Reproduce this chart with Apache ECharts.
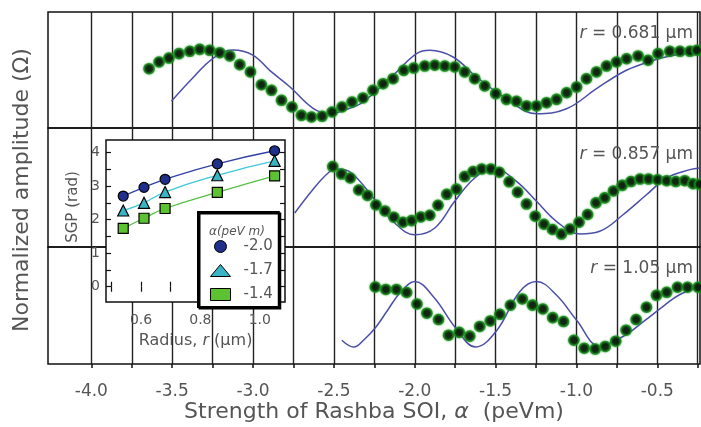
<!DOCTYPE html>
<html>
<head>
<meta charset="utf-8">
<script src="https://cdn.jsdelivr.net/npm/echarts@6/dist/echarts.min.js"></script>
<style>
html, body { margin: 0; padding: 0; background: #fff; }
#main { width: 701px; height: 427px; }
</style>
</head>
<body>
<div id="main"></div>
<script>
// main axis: strength of Rashba SOI
var alphaTicks = [-4.0, -3.75, -3.5, -3.25, -3.0, -2.75, -2.5, -2.25, -2.0, -1.75, -1.5, -1.25, -1.0, -0.75, -0.5, -0.25];
var alphaLabels = [-4.0, -3.5, -3.0, -2.5, -2.0, -1.5, -1.0, -0.5];
var panelRadii = ['0.681', '0.857', '1.05'];

// r = 0.681 um : measured (dots) and calculated (line)
var dots681 = [[-3.643,0.511],[-3.581,0.569],[-3.520,0.603],[-3.458,0.641],[-3.391,0.661],[-3.330,0.678],[-3.268,0.670],[-3.206,0.649],[-3.144,0.621],[-3.082,0.546],[-3.016,0.483],[-2.948,0.373],[-2.886,0.325],[-2.824,0.239],[-2.759,0.181],[-2.701,0.109],[-2.639,0.095],[-2.573,0.101],[-2.511,0.138],[-2.450,0.181],[-2.388,0.224],[-2.320,0.259],[-2.258,0.325],[-2.196,0.382],[-2.134,0.425],[-2.068,0.497],[-2.006,0.517],[-1.938,0.534],[-1.876,0.541],[-1.814,0.534],[-1.753,0.526],[-1.691,0.483],[-1.629,0.425],[-1.567,0.362],[-1.499,0.296],[-1.433,0.247],[-1.371,0.230],[-1.309,0.190],[-1.247,0.190],[-1.185,0.218],[-1.123,0.247],[-1.061,0.304],[-0.999,0.353],[-0.938,0.425],[-0.876,0.483],[-0.814,0.534],[-0.752,0.569],[-0.690,0.597],[-0.619,0.621],[-0.557,0.584],[-0.495,0.641],[-0.423,0.661],[-0.360,0.661],[-0.298,0.661],[-0.255,0.670]];
var fit681 = [[-3.505,0.230],[-3.379,0.422],[-3.247,0.601],[-3.126,0.672],[-3.002,0.629],[-2.897,0.497],[-2.773,0.356],[-2.631,0.172],[-2.526,0.123],[-2.433,0.155],[-2.320,0.224],[-2.134,0.454],[-1.989,0.641],[-1.907,0.670],[-1.763,0.612],[-1.618,0.440],[-1.433,0.253],[-1.247,0.123],[-1.061,0.166],[-0.876,0.339],[-0.712,0.483],[-0.588,0.554],[-0.423,0.621],[-0.250,0.647]];

// r = 0.857 um
var dots857 = [[-2.507,0.676],[-2.453,0.613],[-2.399,0.580],[-2.346,0.479],[-2.292,0.433],[-2.240,0.353],[-2.184,0.303],[-2.129,0.250],[-2.073,0.208],[-2.019,0.222],[-1.963,0.252],[-1.907,0.267],[-1.856,0.351],[-1.802,0.443],[-1.742,0.486],[-1.691,0.592],[-1.639,0.634],[-1.586,0.655],[-1.529,0.655],[-1.477,0.628],[-1.416,0.548],[-1.364,0.460],[-1.309,0.361],[-1.255,0.259],[-1.201,0.191],[-1.148,0.147],[-1.093,0.109],[-1.040,0.151],[-0.984,0.208],[-0.931,0.273],[-0.879,0.371],[-0.825,0.413],[-0.771,0.471],[-0.717,0.518],[-0.663,0.550],[-0.607,0.571],[-0.554,0.571],[-0.498,0.565],[-0.442,0.557],[-0.386,0.550],[-0.330,0.557],[-0.279,0.532],[-0.238,0.527]];
var fit857 = [[-2.742,0.286],[-2.637,0.471],[-2.536,0.622],[-2.482,0.655],[-2.391,0.622],[-2.247,0.397],[-2.124,0.202],[-2.000,0.103],[-1.876,0.160],[-1.753,0.384],[-1.629,0.580],[-1.511,0.660],[-1.371,0.552],[-1.247,0.384],[-1.124,0.216],[-0.980,0.109],[-0.856,0.132],[-0.712,0.271],[-0.567,0.439],[-0.443,0.580],[-0.299,0.650],[-0.237,0.664]];

// r = 1.05 um
var dots105 = [[-2.244,0.658],[-2.179,0.637],[-2.113,0.637],[-2.050,0.611],[-1.986,0.513],[-1.925,0.434],[-1.853,0.380],[-1.791,0.246],[-1.725,0.270],[-1.660,0.238],[-1.598,0.321],[-1.533,0.368],[-1.474,0.425],[-1.408,0.502],[-1.335,0.556],[-1.272,0.503],[-1.208,0.470],[-1.147,0.396],[-1.080,0.363],[-1.016,0.203],[-0.952,0.135],[-0.884,0.128],[-0.822,0.150],[-0.757,0.195],[-0.693,0.289],[-0.631,0.380],[-0.567,0.485],[-0.505,0.587],[-0.442,0.613],[-0.375,0.656],[-0.313,0.656],[-0.248,0.656]];
var fit105 = [[-2.451,0.203],[-2.377,0.145],[-2.309,0.214],[-2.241,0.314],[-2.167,0.462],[-2.093,0.604],[-2.000,0.705],[-1.882,0.570],[-1.746,0.306],[-1.623,0.145],[-1.493,0.286],[-1.351,0.618],[-1.247,0.705],[-1.124,0.590],[-1.000,0.376],[-0.856,0.154],[-0.712,0.235],[-0.578,0.370],[-0.454,0.504],[-0.363,0.592],[-0.256,0.650]];

// inset: SGP vs radius
var radius = [0.54, 0.61, 0.681, 0.857, 1.05];
var sgp20 = [2.70, 2.96, 3.20, 3.66, 4.05];
var sgp17 = [2.27, 2.50, 2.82, 3.32, 3.75];
var sgp14 = [1.74, 2.04, 2.33, 2.81, 3.30];
var radiusTicks = [0.5, 0.6, 0.7, 0.8, 0.9, 1.0];
var radiusLabels = [0.6, 0.8, 1.0];
var sgpTicks = [0, 0.5, 1, 1.5, 2, 2.5, 3, 3.5, 4];
var sgpLabels = [0, 1, 2, 3, 4];

var FONT = 'DejaVu Sans';
var GREY = '#555';

function zip(xs, ys) {
    return xs.map(function (x, i) { return [x, ys[i]]; });
}

var myChart = echarts.init(document.getElementById('main'));

var panelGrid = { left: 48, width: 652, show: true, borderColor: '#111', borderWidth: 1.5 };
var grids = [
    Object.assign({ top: 12, height: 116 }, panelGrid),
    Object.assign({ top: 128, height: 119 }, panelGrid),
    Object.assign({ top: 247, height: 117 }, panelGrid),
    { left: 106, top: 140, width: 179, height: 162, show: true, backgroundColor: '#fff', borderColor: '#111', borderWidth: 1.5, z: 3 }
];

function alphaAxis(i, last) {
    return {
        type: 'value', gridIndex: i, min: -4.268, max: -0.236,
        axisLine: { show: false },
        axisTick: { show: last, inside: false, length: 4, customValues: alphaTicks, lineStyle: { color: '#111', width: 1.5 } },
        axisLabel: {
            show: last, customValues: alphaLabels, margin: 19,
            formatter: function (v) { return v.toFixed(1); },
            color: GREY, fontSize: 17, fontFamily: FONT
        },
        splitLine: { show: true, lineStyle: { color: '#222', width: 1.4 } },
        name: last ? '{t|Strength of Rashba SOI, }{a|α}{t|  (peVm)}' : '',
        nameLocation: 'middle', nameGap: 37,
        nameTextStyle: {
            rich: {
                t: { fontSize: 22, fontFamily: FONT, color: GREY },
                a: { fontSize: 22, fontFamily: FONT, color: GREY, fontStyle: 'italic' }
            }
        }
    };
}

function ampAxis(i) {
    return { type: 'value', gridIndex: i, min: 0, max: 1, show: false };
}

var insetTickStyle = { color: '#111', width: 1.2 };

option = {
    animation: false,
    grid: grids,
    xAxis: [
        alphaAxis(0, false), alphaAxis(1, false), alphaAxis(2, true),
        {
            type: 'value', gridIndex: 3, min: 0.482, max: 1.085, z: 4,
            axisLine: { show: false },
            axisTick: { inside: true, length: 5, customValues: radiusTicks, lineStyle: insetTickStyle },
            axisLabel: { customValues: radiusLabels, margin: 11, color: GREY, fontSize: 14, fontFamily: FONT,
                formatter: function (v) { return v.toFixed(1); } },
            splitLine: { show: false },
            name: '{t|Radius, }{i|r}{t| (μm)}', nameLocation: 'middle', nameGap: 31,
            nameTextStyle: { rich: {
                t: { fontSize: 16, fontFamily: FONT, color: GREY },
                i: { fontSize: 16, fontFamily: FONT, color: GREY, fontStyle: 'italic' }
            } }
        },
        {
            type: 'value', gridIndex: 3, position: 'top', min: 0.482, max: 1.085, z: 4,
            axisLine: { show: false },
            axisTick: { inside: true, length: 5, customValues: radiusTicks, lineStyle: insetTickStyle },
            axisLabel: { show: false }, splitLine: { show: false }
        }
    ],
    yAxis: [
        ampAxis(0), ampAxis(1), ampAxis(2),
        {
            type: 'value', gridIndex: 3, min: -0.455, max: 4.37, z: 4,
            axisLine: { show: false },
            axisTick: { inside: true, length: 5, customValues: sgpTicks, lineStyle: insetTickStyle },
            axisLabel: { customValues: sgpLabels, margin: 6, color: GREY, fontSize: 14, fontFamily: FONT },
            splitLine: { show: false }
        },
        {
            type: 'value', gridIndex: 3, position: 'right', min: -0.455, max: 4.37, z: 4,
            axisLine: { show: false },
            axisTick: { inside: true, length: 5, customValues: sgpTicks, lineStyle: insetTickStyle },
            axisLabel: { show: false }, splitLine: { show: false }
        }
    ],
    legend: {
        data: [{ name: '-2.0', icon: 'circle' }, { name: '-1.7', icon: 'triangle' }, { name: '-1.4', icon: 'rect' }],
        orient: 'vertical', left: 198, top: 212,
        padding: [27, 6, 5, 12], itemGap: 9, itemWidth: 20, itemHeight: 12,
        backgroundColor: '#fff', borderColor: '#000', borderWidth: 2,
        shadowColor: '#000', shadowBlur: 0, shadowOffsetX: 1.5, shadowOffsetY: 1.5,
        textStyle: { fontSize: 15, color: GREY, fontFamily: FONT, padding: [0, 0, 0, 8] },
        itemStyle: { borderColor: '#000', borderWidth: 1 },
        selectedMode: false, z: 6
    },
    graphic: [
        { type: 'text', x: 22, y: 190, rotation: Math.PI / 2, z: 10,
          style: { text: 'Normalized amplitude (Ω)', font: '22px ' + FONT, fill: GREY, align: 'center', verticalAlign: 'middle' } },
        { type: 'text', x: 73, y: 207, rotation: Math.PI / 2, z: 10,
          style: { text: 'SGP (rad)', font: '15px ' + FONT, fill: GREY, align: 'center', verticalAlign: 'middle' } },
        { type: 'text', x: 237, y: 232, z: 10,
          style: { text: '{i|α}{t|(peV m)}', align: 'center', verticalAlign: 'middle', fill: GREY,
              rich: { i: { fontStyle: 'italic', fontSize: 12, fontFamily: FONT, fill: GREY },
                      t: { fontStyle: 'italic', fontSize: 12, fontFamily: FONT, fill: GREY } } } }
    ].concat(panelRadii.map(function (r, i) {
        return { type: 'text', right: 8, top: [25, 146, 260][i], z: 10,
            style: { text: '{i|r} = ' + r + ' μm', font: '17px ' + FONT, fill: GREY,
                rich: { i: { fontStyle: 'italic', fontSize: 17, fontFamily: FONT, fill: GREY } } } };
    })),
    series: [
        [fit681, 0], [fit857, 1], [fit105, 2]
    ].map(function (d) {
        return { type: 'line', xAxisIndex: d[1], yAxisIndex: d[1], data: d[0], showSymbol: false, smooth: 0.4,
            lineStyle: { color: '#4b4fa8', width: 1.5 }, z: 2, silent: true };
    }).concat([
        [dots681, 0], [dots857, 1], [dots105, 2]
    ].map(function (d) {
        return { type: 'scatter', xAxisIndex: d[1], yAxisIndex: d[1], data: d[0], symbolSize: 10,
            itemStyle: { color: '#020202', borderColor: '#17861a', borderWidth: 1.6,
                shadowBlur: 2, shadowColor: '#1f9f22' }, z: 3, silent: true };
    })).concat([
        ['-2.0', sgp20, 'circle', '#1f2f8a', '#3040a8', 10],
        ['-1.7', sgp17, 'triangle', '#38b4c4', '#40c8d8', 11],
        ['-1.4', sgp14, 'rect', '#5cc232', '#50c040', 10]
    ].map(function (d) {
        return { name: d[0], type: 'line', xAxisIndex: 3, yAxisIndex: 3, data: zip(radius, d[1]),
            symbol: d[2], symbolSize: d[5], smooth: true, z: 5,
            itemStyle: { color: d[3], borderColor: '#000', borderWidth: 1.2 },
            lineStyle: { color: d[4], width: 1.3 } };
    }))
};

myChart.setOption(option);
</script>
</body>
</html>
